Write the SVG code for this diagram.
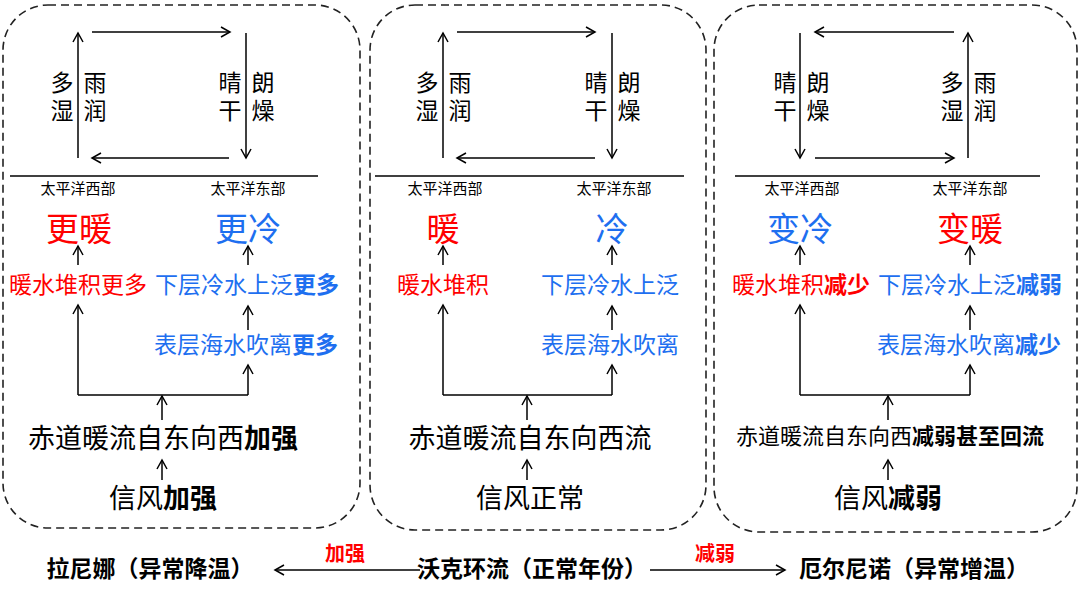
<svg xmlns="http://www.w3.org/2000/svg" width="1080" height="605" viewBox="0 0 1080 605">
<defs>
<marker id="a" markerWidth="12" markerHeight="12" refX="10" refY="6" orient="auto" markerUnits="userSpaceOnUse"><path d="M1,1 L10,6 L1,11" fill="none" stroke="#000" stroke-width="1.5"/></marker>
</defs>
<style>
text{font-family:"Liberation Sans","Noto Sans CJK SC",sans-serif;text-anchor:middle}
.l{stroke:#000;stroke-width:1.5;fill:none}
.ar{stroke:#000;stroke-width:1.5;fill:none;marker-end:url(#a)}
.p{fill:none;stroke:#222;stroke-width:1.6;stroke-dasharray:8,5}
.v{font-size:23px;fill:#000}
.o{font-size:15px}
.big{font-size:33px}
.r{fill:#f00}.b{fill:#1E6FF0}
.m{font-size:23px}
.h{font-size:27px}
.bd{font-weight:bold}
</style>
<g id="panel-lanina">
<rect class="p" x="3" y="5" width="357" height="523" rx="45"/>
</g>
<g id="panel-walker">
<rect class="p" x="370" y="5" width="336" height="525" rx="45"/>
</g>
<g id="panel-elnino">
<rect class="p" x="714" y="5" width="363" height="527" rx="45"/>
</g>
<g id="connectors">
<path class="ar" d="M78,158 V33"/><path class="ar" d="M92,32 H230"/><path class="ar" d="M246,33 V158"/><path class="ar" d="M229,158 H92"/>
<path class="l" d="M10,176 H318"/>
<path class="ar" d="M78,265 V246"/><path class="ar" d="M248,265 V246"/><path class="ar" d="M248,330 V306"/>
<path class="ar" d="M78,395 V305"/><path class="l" d="M78,395 H248"/><path class="ar" d="M248,395 V365"/>
<path class="ar" d="M162,420 V396"/><path class="ar" d="M162,480 V460"/>

<path class="ar" d="M443,158 V33"/><path class="ar" d="M457,32 H595"/><path class="ar" d="M612,33 V158"/><path class="ar" d="M595,158 H457"/>
<path class="l" d="M375,176 H684"/>
<path class="ar" d="M443,265 V246"/><path class="ar" d="M612,265 V246"/><path class="ar" d="M612,330 V306"/>
<path class="ar" d="M443,395 V305"/><path class="l" d="M443,395 H612"/><path class="ar" d="M612,395 V365"/>
<path class="ar" d="M527,420 V396"/><path class="ar" d="M527,480 V460"/>

<path class="ar" d="M800,33 V158"/><path class="ar" d="M954,32 H815"/><path class="ar" d="M968,158 V33"/><path class="ar" d="M815,158 H954"/>
<path class="l" d="M735,176 H1040"/>
<path class="ar" d="M800,265 V246"/><path class="ar" d="M970,265 V246"/><path class="ar" d="M970,330 V306"/>
<path class="ar" d="M800,395 V305"/><path class="l" d="M800,395 H970"/><path class="ar" d="M970,395 V365"/>
<path class="ar" d="M888,420 V396"/><path class="ar" d="M888,480 V460"/>

<path class="ar" d="M420,570 H275"/><path class="ar" d="M650,570 H785"/>
</g>
<g id="labels-lanina">
<text class="v" x="62" y="91">多</text><text class="v" x="62" y="119">湿</text>
<text class="v" x="95" y="91">雨</text><text class="v" x="95" y="119">润</text>
<text class="v" x="230" y="91">晴</text><text class="v" x="230" y="119">干</text>
<text class="v" x="263" y="91">朗</text><text class="v" x="263" y="119">燥</text>
<text class="o" x="78" y="194">太平洋西部</text><text class="o" x="248" y="194">太平洋东部</text>
<text class="big r" x="79" y="241">更暖</text><text class="big b" x="248" y="241">更冷</text>
<text class="m r" x="78" y="293">暖水堆积更多</text>
<text class="m b" x="247" y="293">下层冷水上泛<tspan class="bd">更多</tspan></text>
<text class="m b" x="246" y="353">表层海水吹离<tspan class="bd">更多</tspan></text>
<text class="h" x="163" y="448">赤道暖流自东向西<tspan class="bd">加强</tspan></text>
<text class="h" x="163" y="508">信风<tspan class="bd">加强</tspan></text>
</g>
<g id="labels-walker">
<text class="v" x="427" y="91">多</text><text class="v" x="427" y="119">湿</text>
<text class="v" x="460" y="91">雨</text><text class="v" x="460" y="119">润</text>
<text class="v" x="596" y="91">晴</text><text class="v" x="596" y="119">干</text>
<text class="v" x="629" y="91">朗</text><text class="v" x="629" y="119">燥</text>
<text class="o" x="445" y="194">太平洋西部</text><text class="o" x="614" y="194">太平洋东部</text>
<text class="big r" x="443" y="241">暖</text><text class="big b" x="612" y="241">冷</text>
<text class="m r" x="443" y="293">暖水堆积</text>
<text class="m b" x="610" y="293">下层冷水上泛</text>
<text class="m b" x="610" y="353">表层海水吹离</text>
<text class="h" x="530" y="448">赤道暖流自东向西流</text>
<text class="h" x="530" y="508">信风正常</text>
</g>
<g id="labels-elnino">
<text class="v" x="785" y="91">晴</text><text class="v" x="785" y="119">干</text>
<text class="v" x="818" y="91">朗</text><text class="v" x="818" y="119">燥</text>
<text class="v" x="952" y="91">多</text><text class="v" x="952" y="119">湿</text>
<text class="v" x="985" y="91">雨</text><text class="v" x="985" y="119">润</text>
<text class="o" x="802" y="194">太平洋西部</text><text class="o" x="970" y="194">太平洋东部</text>
<text class="big b" x="800" y="241">变冷</text><text class="big r" x="970" y="241">变暖</text>
<text class="m r" x="801" y="293">暖水堆积<tspan class="bd">减少</tspan></text>
<text class="m b" x="970" y="293">下层冷水上泛<tspan class="bd">减弱</tspan></text>
<text class="m b" x="969" y="353">表层海水吹离<tspan class="bd">减少</tspan></text>
<text class="m" x="890" y="444" style="font-size:22px">赤道暖流自东向西<tspan class="bd">减弱甚至回流</tspan></text>
<text class="h" x="888" y="508">信风<tspan class="bd">减弱</tspan></text>
</g>
<g id="labels-bottom">
<text class="m bd" x="150" y="577">拉尼娜（异常降温）</text>
<text class="bd r" style="font-size:20px" x="345" y="561">加强</text>
<text class="m bd" x="532" y="577">沃克环流（正常年份）</text>
<text class="bd r" style="font-size:20px" x="715" y="561">减弱</text>
<text class="m bd" x="914" y="577">厄尔尼诺（异常增温）</text>
</g>
</svg>
